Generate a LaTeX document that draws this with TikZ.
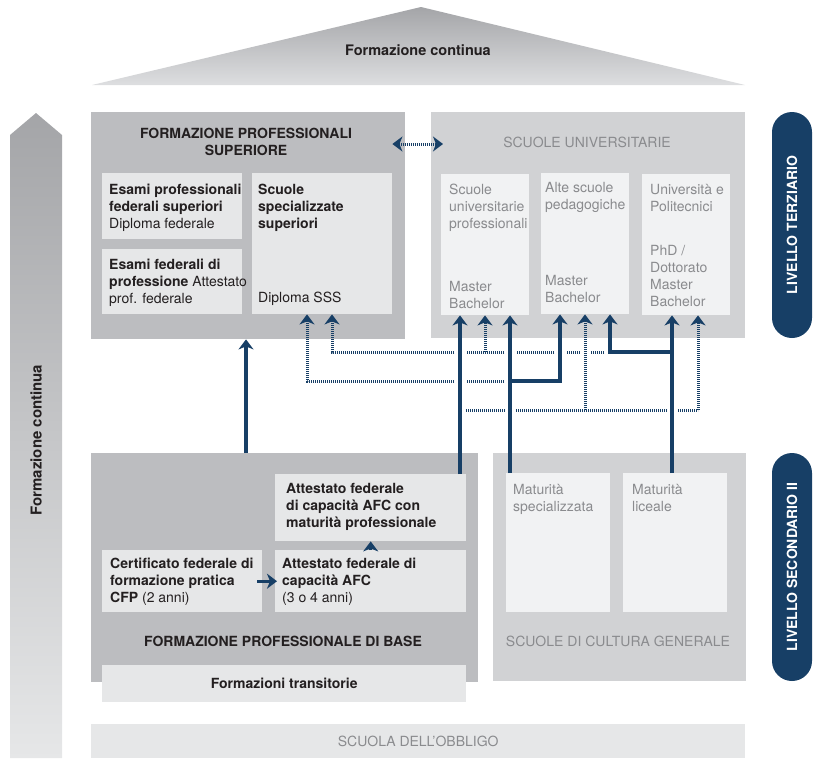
\documentclass[tikz,border=0pt]{standalone}
\usepackage{fontspec}
\setmainfont{TeX Gyre Heros}
\usepackage{xcolor}
\usepackage{tikz}
\usetikzlibrary{calc}
\usetikzlibrary{arrows.meta}
\usetikzlibrary{positioning}
\definecolor{navy}{HTML}{173F66}
\definecolor{ink}{HTML}{231F20}
\definecolor{mute}{HTML}{8A8B8E}
\definecolor{roofdark}{HTML}{A4A5A8}
\definecolor{rooflight}{HTML}{DDDEE0}
\definecolor{midgray}{HTML}{BCBDC0}
\definecolor{litegray}{HTML}{D1D2D4}
\definecolor{palegray}{HTML}{E6E7E8}
\definecolor{whitegray}{HTML}{F1F2F3}
\newcommand{\bodyfont}{\fontsize{14}{17}\selectfont}
\tikzset{>=latex}
\tikzstyle{frame} = [rectangle, draw=none, inner sep=0, anchor=north west]
\tikzstyle{pro} = [frame, fill=midgray]
\tikzstyle{gen} = [frame, fill=litegray]
\tikzstyle{cell} = [frame, fill=palegray, text=ink, font=\bodyfont\bfseries]
\tikzstyle{ucell} = [frame, fill=whitegray]
\tikzstyle{txt} = [draw=none, inner sep=0, anchor=north west, align=left, text=ink, font=\bodyfont]
\tikzstyle{gtxt} = [txt, text=mute]
\tikzstyle{head} = [draw=none, inner sep=0, align=center, text=ink, font=\bodyfont\bfseries]
\tikzstyle{ghead} = [draw=none, inner sep=0, text=mute, font=\bodyfont]
\tikzstyle{pill} = [rectangle, rounded corners=20pt, fill=navy, text=white, font=\bodyfont\bfseries, rotate=90, inner sep=0, minimum height=40pt]
\tikzstyle{link} = [draw=navy, line width=3.2pt, -{Stealth[length=10pt, width=15pt, inset=3pt]}]
\tikzstyle{dotline} = [draw=navy, line width=3pt, dash pattern=on 1.2pt off 0.8pt]
\tikzstyle{dotlink} = [dotline, -{Stealth[length=10pt, width=15pt, inset=3pt]}]
\tikzstyle{halo} = [draw=white, line width=11pt]

\begin{document}
\begin{tikzpicture}[x=1pt, y=-1pt]
\useasboundingbox (0,0) rectangle (813,758);
% roof and side arrow
\shade[top color=roofdark, bottom color=rooflight] (92,85) -- (421,7) -- (745,85) -- cycle;
\node [head, font=\fontsize{14.5}{17}\selectfont\bfseries] (roof) at (418,50) {Formazione continua};
\shade[top color=roofdark, bottom color=palegray] (10,758) -- (10,135) -- (36,113) -- (62,135) -- (62,758) -- cycle;
\node [head, rotate=90, font=\fontsize{15}{17}\selectfont\bfseries] (side) at (36,440) {Formazione continua};

% terziario
\node [pro, minimum width=314pt, minimum height=227pt] (fps) at (91,112) {};
\node [head] (fpst) at (246,142) {FORMAZIONE PROFESSIONALI\\SUPERIORE};
\node [cell, minimum width=140pt, minimum height=66pt] (ep) at (102,173) {};
\node [cell, minimum width=140pt, minimum height=65pt] (ef) at (102,249) {};
\node [cell, minimum width=140pt, minimum height=141pt] (sss) at (252,173) {};
\node [txt] (ept) at (109,184) {\textbf{Esami professionali}\\\textbf{federali superiori}\\Diploma federale};
\node [txt] (eft) at (109,259) {\textbf{Esami federali di}\\\textbf{professione} Attestato\\prof. federale};
\node [txt] (ssst) at (258,184) {\textbf{Scuole}\\\textbf{specializzate}\\\textbf{superiori}};
\node [txt] (sssd) at (258,292) {Diploma SSS};

\node [gen, minimum width=314pt, minimum height=226pt] (su) at (431,112) {};
\node [ghead] (sut) at (587,142) {SCUOLE UNIVERSITARIE};
\node [ucell, minimum width=88pt, minimum height=141pt] (sup) at (441,174) {};
\node [ucell, minimum width=88pt, minimum height=141pt] (asp) at (541,173) {};
\node [ucell, minimum width=88pt, minimum height=141pt] (uni) at (642,174) {};
\node [gtxt] (supt) at (449,184) {Scuole\\universitarie\\professionali};
\node [gtxt] (supd) at (449,281) {Master\\Bachelor};
\node [gtxt] (aspt) at (545,182) {Alte scuole\\pedagogiche};
\node [gtxt] (aspd) at (545,275) {Master\\Bachelor};
\node [gtxt] (unit) at (650,184) {Università e\\Politecnici};
\node [gtxt] (unid) at (650,245) {PhD /\\Dottorato\\Master\\Bachelor};

\node [pill, minimum width=226pt] (tert) at (792,225) {LIVELLO TERZIARIO};

% secondario II
\node [pro, minimum width=387pt, minimum height=229pt] (fpb) at (91,453) {};
\node [cell, minimum width=191pt, minimum height=67pt] (afcm) at (275,474) {};
\node [cell, minimum width=160pt, minimum height=62pt] (cfp) at (102,550) {};
\node [cell, minimum width=191pt, minimum height=62pt] (afc) at (275,550) {};
\node [txt] (afcmt) at (286,483) {\textbf{Attestato federale}\\\textbf{di capacità AFC con}\\\textbf{maturità professionale}};
\node [txt] (cfpt) at (110,558) {\textbf{Certificato federale di}\\\textbf{formazione pratica}\\\textbf{CFP} (2 anni)};
\node [txt] (afct) at (282,558) {\textbf{Attestato federale di}\\\textbf{capacità AFC}\\(3 o 4 anni)};
\node [head] (fpbt) at (283,641) {FORMAZIONE PROFESSIONALE DI BASE};
\node [cell, minimum width=364pt, minimum height=37pt] (trans) at (102,665) {Formazioni transitorie};

\node [gen, minimum width=253pt, minimum height=228pt] (scg) at (493,453) {};
\node [ucell, minimum width=104pt, minimum height=139pt] (ms) at (506,473) {};
\node [ucell, minimum width=104pt, minimum height=139pt] (ml) at (623,473) {};
\node [gtxt] (mst) at (513,484) {Maturità\\specializzata};
\node [gtxt] (mlt) at (632,484) {Maturità\\liceale};
\node [ghead] (scgt) at (618,641) {SCUOLE DI CULTURA GENERALE};

\node [pill, minimum width=228pt] (sec) at (792,567) {LIVELLO SECONDARIO II};

\node [cell, minimum width=654pt, minimum height=34pt, text=mute, font=\bodyfont] (obb) at (91,724) {SCUOLA DELL’OBBLIGO};

% columns and rows of the links
\coordinate (ca) at (246,0);
\coordinate (cb) at (460,0);
\coordinate (cc) at (510,0);
\coordinate (cd) at (560,0);
\coordinate (ce) at (610,0);
\coordinate (cf) at (672,0);
\coordinate (cg) at (307,0);
\coordinate (ch) at (332,0);
\coordinate (ci) at (485,0);
\coordinate (cj) at (585,0);
\coordinate (ck) at (698,0);
\coordinate (r0) at (0,144);
\coordinate (r1) at (0,352);
\coordinate (r2) at (0,381);
\coordinate (r3) at (0,410);

% passages
\draw [dotline, {Stealth[length=10pt, width=15pt, inset=3pt]}-{Stealth[length=10pt, width=15pt, inset=3pt]}, shorten <=-13pt, shorten >=-12pt] (fps.east |- r0) to (su.west |- r0);
\draw [dotlink] (ce |- r1) -| (ch |- sss.south);
\draw [dotlink] (cc |- r2) -| (cg |- sss.south);
\draw [dotline] (cb |- r3) to (ck |- r3);
\begin{scope}
\clip (0,340) rectangle (813,452);
\draw [halo] (cb |- afcm.north) to (cb |- sup.south);
\draw [halo] (cc |- ms.north) to (cc |- sup.south);
\draw [halo] (cc |- r2) -| (cd |- asp.south);
\draw [halo] (cf |- ml.north) to (cf |- uni.south);
\draw [halo] (cf |- r1) -| (ce |- asp.south);
\draw [halo, shorten <=12pt] (cj |- r3) to (cj |- asp.south);
\end{scope}
\draw [dotlink] (cj |- r3) to (cj |- asp.south);
\draw [dotlink] (ck |- r3) to (ck |- uni.south);
\draw [dotlink] (ci |- r1) to (ci |- sup.south);

% solid links
\draw [link] (ca |- fpb.north) to (ca |- fps.south);
\draw [link] (cb |- afcm.north) to (cb |- sup.south);
\draw [link] (cc |- ms.north) to (cc |- sup.south);
\draw [link] (cc |- r2) -| (cd |- asp.south);
\draw [link] (cf |- ml.north) to (cf |- uni.south);
\draw [link] (cf |- r1) -| (ce |- asp.south);
\draw [link, shorten <=-5pt, shorten >=-2pt] (cfp.east) to (afc.west);
\draw [link] (afc.north) to (afcm.south);
\end{tikzpicture}
\end{document}
